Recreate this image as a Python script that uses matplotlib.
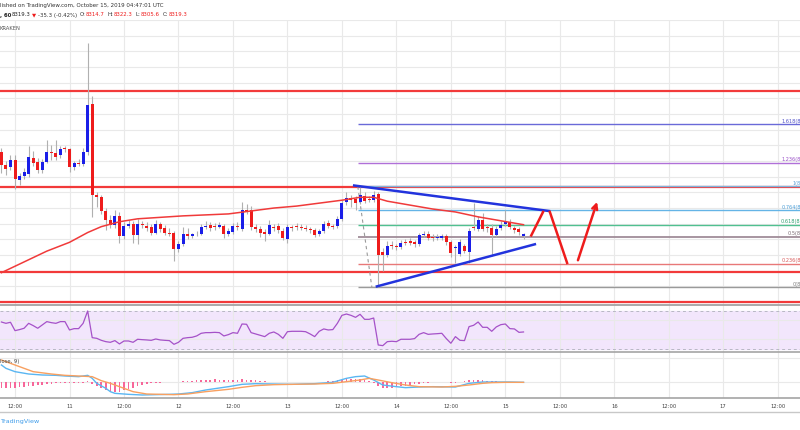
import numpy as np
import matplotlib.pyplot as plt
from matplotlib.lines import Line2D

# BTCUSD 1h, Kraken -- candles from Oct 10 09:00 to Oct 15 04:00 UTC
opens = [8527.5, 8495, 8490, 8507.5, 8457.5, 8467.5, 8472.5, 8512.5, 8502.5, 8482.5,
         8502.5, 8527.5, 8525, 8520, 8537.5, 8535, 8490, 8500, 8497.5, 8527.5,
         8650, 8417.5, 8412.5, 8377.5, 8355, 8342.5, 8365, 8312.5, 8340, 8345,
         8315, 8345, 8340, 8337.5, 8322.5, 8345, 8335, 8322.5, 8322.5, 8280,
         8292.5, 8317.5, 8312.5, 8317.5, 8320, 8337.5, 8342.5, 8340, 8337.5, 8340,
         8320, 8325, 8340, 8332.5, 8380, 8380, 8337.5, 8332.5, 8325, 8320,
         8337.5, 8340, 8327.5, 8305, 8335, 8340, 8337.5, 8335, 8332.5, 8330,
         8317.5, 8327.5, 8347.5, 8340, 8340, 8357.5, 8400, 8410, 8407.5, 8400,
         8415, 8407.5, 8405, 8420, 8272.5, 8265, 8290, 8287.5, 8285, 8297.5,
         8300, 8297.5, 8292.5, 8315, 8320, 8310, 8307.5, 8307.5, 8312.5, 8297.5,
         8282.5, 8267.5, 8287.5, 8272.5, 8337.5, 8332.5, 8355, 8335, 8335, 8315,
         8335, 8345, 8350, 8335, 8332.5, 8314.7]
highs = [8537.5, 8505, 8520, 8520, 8475, 8487.5, 8542.5, 8530, 8512.5, 8510,
         8557.5, 8545, 8557.5, 8542.5, 8542.5, 8537.5, 8505, 8510, 8537.5, 8807.5,
         8670, 8425, 8417.5, 8385, 8367.5, 8380, 8375, 8350, 8355, 8352.5,
         8357.5, 8352.5, 8350, 8345, 8355, 8350, 8342.5, 8335, 8327.5, 8300,
         8337.5, 8335, 8322.5, 8327.5, 8345, 8352.5, 8350, 8347.5, 8350, 8345,
         8335, 8347.5, 8350, 8400, 8395, 8390, 8345, 8340, 8332.5, 8355,
         8345, 8347.5, 8335, 8345, 8342.5, 8347.5, 8345, 8342.5, 8337.5, 8335,
         8332.5, 8352.5, 8355, 8345, 8365, 8405, 8425, 8417.5, 8415, 8440,
         8425, 8415, 8427.5, 8425, 8282.5, 8300, 8300, 8292.5, 8302.5, 8305,
         8307.5, 8302.5, 8322.5, 8327.5, 8327.5, 8317.5, 8320, 8320, 8317.5, 8302.5,
         8290, 8305, 8292.5, 8335, 8397.5, 8365, 8372.5, 8345, 8345, 8340,
         8352.5, 8380, 8357.5, 8340, 8337.5, 8322.3]
lows = [8475, 8470, 8482.5, 8432.5, 8445, 8460, 8465, 8492.5, 8475, 8475,
        8500, 8507.5, 8507.5, 8512.5, 8527.5, 8477.5, 8482.5, 8492.5, 8492.5, 8520,
        8362.5, 8387.5, 8370, 8330, 8335, 8335, 8295, 8305, 8335, 8295,
        8292.5, 8335, 8327.5, 8315, 8317.5, 8325, 8315, 8312.5, 8250, 8272.5,
        8287.5, 8305, 8307.5, 8312.5, 8315, 8332.5, 8327.5, 8330, 8335, 8307.5,
        8312.5, 8320, 8330, 8327.5, 8370, 8330, 8325, 8310, 8300, 8315,
        8327.5, 8322.5, 8302.5, 8295, 8327.5, 8330, 8330, 8327.5, 8322.5, 8310,
        8312.5, 8322.5, 8335, 8332.5, 8335, 8352.5, 8392.5, 8387.5, 8380, 8395,
        8397.5, 8400, 8400, 8182.5, 8225, 8260, 8280, 8277.5, 8280, 8290,
        8290, 8285, 8287.5, 8310, 8302.5, 8300, 8302.5, 8302.5, 8290, 8260,
        8245, 8262.5, 8270, 8245, 8330, 8327.5, 8327.5, 8325, 8262.5, 8310,
        8330, 8340, 8332.5, 8322.5, 8315, 8305.6]
closes = [8495, 8485, 8507.5, 8460, 8467.5, 8477.5, 8515, 8500, 8482.5, 8502.5,
          8527.5, 8525, 8515, 8535, 8535, 8490, 8500, 8497.5, 8527.5, 8647.5,
          8417.5, 8412.5, 8377.5, 8355, 8342.5, 8365, 8312.5, 8340, 8345, 8315,
          8345, 8342.5, 8335, 8322.5, 8345, 8332.5, 8322.5, 8320, 8280, 8292.5,
          8320, 8312.5, 8317.5, 8320, 8337.5, 8340, 8335, 8337.5, 8342.5, 8320,
          8327.5, 8340, 8337.5, 8380, 8377.5, 8337.5, 8332.5, 8322.5, 8320, 8342.5,
          8335, 8330, 8307.5, 8337.5, 8334, 8337.5, 8335, 8332.5, 8330, 8315,
          8327.5, 8345, 8340, 8337.5, 8357.5, 8397.5, 8410, 8405, 8397.5, 8417.5,
          8402.5, 8406, 8417.5, 8265, 8265, 8287.5, 8287.5, 8285, 8295, 8296,
          8295, 8292.5, 8315, 8320, 8307.5, 8307.5, 8310, 8312.5, 8297.5, 8270,
          8285, 8297.5, 8275, 8327.5, 8335, 8355, 8332.5, 8334, 8315, 8332.5,
          8342.5, 8352.5, 8337.5, 8330, 8325, 8319.3]

# moving average (red line), read at some candles
ma_idx = [0, 5, 10, 15, 19, 22, 26, 30, 40, 50, 55, 60, 65, 70, 75, 79, 82, 85, 90, 95, 100, 105, 110, 115]
ma_val = [8220, 8247.5, 8275, 8297.5, 8322.5, 8337.5, 8350, 8357.5, 8365, 8370, 8377.5, 8385,
          8390, 8397.5, 8405, 8412.5, 8412.5, 8402.5, 8392.5, 8382.5, 8375, 8362.5, 8352.5, 8342.5]

rsi = [58.4, 57.0, 58.1, 49.3, 50.4, 51.8, 57.0, 54.6, 51.8, 55.3,
       58.8, 57.7, 57.0, 58.8, 58.8, 50.0, 51.4, 51.4, 57.0, 70.0,
       41.9, 41.2, 39.1, 37.7, 37.0, 38.8, 35.3, 38.4, 38.4, 37.0,
       40.2, 39.8, 39.5, 39.1, 40.5, 39.5, 39.1, 38.8, 34.9, 37.0,
       41.2, 41.9, 42.3, 43.7, 46.5, 47.2, 47.2, 47.5, 47.2, 43.7,
       45.1, 47.2, 46.5, 56.3, 56.0, 47.2, 45.8, 44.4, 43.0, 46.5,
       47.9, 45.4, 41.2, 48.2, 48.6, 48.6, 48.6, 48.2, 45.8, 43.0,
       48.6, 51.1, 50.0, 50.4, 57.0, 65.4, 66.8, 65.4, 63.3, 66.5,
       61.2, 61.2, 62.6, 34.2, 33.5, 37.7, 38.1, 37.7, 40.2, 40.2,
       40.2, 40.9, 45.4, 47.2, 45.4, 45.8, 46.1, 46.5, 40.9, 36.0,
       43.0, 39.1, 38.8, 53.5, 54.9, 58.4, 52.8, 52.8, 48.6, 53.2,
       55.6, 56.3, 51.4, 51.1, 47.5, 47.9]

macd_idx = [0, 1, 3, 6, 9, 12, 14, 17, 19, 20, 21, 23, 24, 25, 28, 31, 34, 37, 39, 42, 45,
            50, 53, 56, 60, 64, 69, 73, 76, 78, 80, 82, 84, 87, 89, 92, 95, 100, 103, 106,
            109, 112, 115]
macd_val = [26, 21, 16, 12.5, 11, 10.5, 9.5, 8.5, 10.5, 6, -1.5, -9, -14, -16.5, -18, -19,
            -18.5, -18, -17.5, -15.5, -11.5, -6.5, -3, -2, -2.5, -3, -2, 0, 6, 8.5, 9.5, 3.5,
            -4, -6.5, -8, -7, -6.5, -7, -1.5, 0.5, 0.5, 0.5, 0]
signal_idx = [0, 3, 7, 11, 14, 17, 20, 22, 24, 27, 29, 32, 35, 38, 41, 45, 50, 53, 56, 60,
              64, 69, 73, 76, 79, 81, 83, 86, 89, 92, 97, 100, 103, 106, 108, 111, 115]
signal_val = [33.5, 26, 16, 12.5, 10.5, 9.5, 8.5, 2.5, -1.5, -9, -14, -17.5, -18, -18.5,
              -17.5, -14, -10.5, -7.5, -5, -3.5, -3, -2.5, -1.5, 1, 3.5, 6, 3.5, -0.5, -4,
              -6.5, -7, -6, -4, -1.5, -0.5, 0, 0]
hist = [-9, -9, -8.5, -8, -7.5, -6.5, -5.5, -5, -4, -3.5,
        -3, -2, -1.5, -1, -0.5, -0.5, -1, -1.5, -1, 1.5,
        -3, -6, -9, -12, -14, -15, -14, -12, -10, -8,
        -6, -4, -2, -1, -0.5, -0.5, 0, 0.5, 0.5, 1,
        1.5, 2, 2.5, 3, 3.5, 4, 4, 4.5, 4, 4,
        4, 4, 4, 4.5, 4, 3.5, 3, 2, 1.5, 1,
        1, 0.5, 0.5, 0.5, 0, 0, 0.5, 0.5, 0.5, 0.5,
        1, 1, 1.5, 2, 3, 4, 4.5, 5, 5, 4.5,
        3.5, 2, -1.5, -6, -8, -8.5, -8, -7.5, -6, -5,
        -4, -3, -2, -1, -0.5, 0, 0, 0.5, 0, -0.5,
        -0.5, 0.5, 1.5, 3, 3.5, 3.5, 3, 2.5, 2, 1.5,
        1, 0.5, 0.5, 0, 0, 0]

# drawings
red_levels = [8682.5, 8437.5, 8222.5, 8145]
fib_high, fib_low = 8440.0, 8182.5
fib_start = (78.5, 81.6)
fib_ratios = [1.618, 1.236, 1, 0.764, 0.618, 0.5, 0.236, 0]
fib_colors = ['#6a6ad8', '#b070d8', '#80b4dc', '#64b4e6', '#50c090', '#a08c98', '#e87878', '#9a9a9a']
fib_text = ['#5050c8', '#9a50c8', '#5aa0d8', '#4a9ed8', '#30a070', '#7a6a72', '#d85a5a', '#808080']
tri_upper = ([77.7, 120.6], [8442.5, 8377.5])
tri_lower = ([82.7, 117.5], [8185, 8292.5])
path_up = ([116.7, 119.3], [8315, 8375])
path_down = ([120.8, 124.6], [8375, 8245])
path_arrow = ([126.8, 131.4], [8245, 8407.5])

tick_labels = ['12:00', '11', '12:00', '12', '12:00', '13', '12:00', '14',
               '12:00', '15', '12:00', '16', '12:00', '17', '12:00']

BLUE = '#1a1ee8'
RED = '#ee1c1c'
GRID = '#e9e9e9'


def fy(ypix):
    return 1 - ypix / 430


fig = plt.figure(figsize=(8, 4.3), dpi=100)
ax = fig.add_axes([0, fy(305), 1, 285 / 430])
ax_rsi = fig.add_axes([0, fy(352), 1, 47 / 430], sharex=ax)
ax_macd = fig.add_axes([0, fy(398), 1, 46 / 430], sharex=ax)

xt = np.arange(3, 176, 12)
for a in (ax, ax_rsi, ax_macd):
    for s in a.spines.values():
        s.set_visible(False)
    a.set_axisbelow(True)
    a.set_xticks(xt)
    a.grid(True, color=GRID, lw=0.8)
    a.tick_params(length=0, labelleft=False, labelbottom=False)
ax.set_xlim(-0.31, 175.9)

# main price panel
ax.set_ylim(8137.5, 8850)
ax.set_yticks(np.arange(8145, 8866, 40))

x = np.arange(len(opens))
o, h, l, c = map(np.array, (opens, highs, lows, closes))
cols = np.where(c >= o, BLUE, RED)
ax.vlines(x, l, h, color='#b0b0b0', lw=0.8, zorder=3)
ax.bar(x, np.maximum(np.abs(c - o), 1.8), bottom=np.minimum(o, c), width=0.66,
       color=cols, linewidth=0, zorder=4)

ax.plot(ma_idx, ma_val, color='#f03a3a', lw=1.1, zorder=5)

for lv in red_levels:
    ax.axhline(lv, color='#f23a3a', lw=1.6, zorder=2)

for r, col, tc in zip(fib_ratios, fib_colors, fib_text):
    lv = fib_low + r * (fib_high - fib_low)
    ax.hlines(lv, fib_start[0], 176, color=col, lw=1.0 if r != 0.5 else 1.3, zorder=2)
    ax.text(179.6, lv + 1.5, f'{r}({lv:.1f})', color=tc, fontsize=3.6,
            ha='right', va='bottom', clip_on=False)
ax.plot(fib_start, [fib_high, fib_low], color='#9a9a9a', lw=0.8, ls=(0, (3, 3)), zorder=3)

ax.plot(*tri_upper, color='#2233dd', lw=1.8, zorder=6)
ax.plot(*tri_lower, color='#2233dd', lw=1.8, zorder=6)
ax.plot(*path_up, color=RED, lw=1.8, zorder=6)
ax.plot(*path_down, color=RED, lw=1.8, zorder=6)
ax.annotate('', xy=(path_arrow[0][1], path_arrow[1][1]),
            xytext=(path_arrow[0][0], path_arrow[1][0]),
            arrowprops=dict(arrowstyle='->', color=RED, lw=1.8, mutation_scale=9), zorder=6)

# RSI panel
ax_rsi.set_ylim(26.8, 76.3)
ax_rsi.set_yticks([40, 60])
ax_rsi.axhspan(30, 70, color='#f2e6fc', zorder=0)
ax_rsi.axhline(70, color='#b8b8c4', lw=0.7, ls=(0, (3, 3)))
ax_rsi.axhline(30, color='#b8b8c4', lw=0.7, ls=(0, (3, 3)))
ax_rsi.plot(x, rsi, color='#a552c8', lw=0.9)

# MACD panel
ax_macd.set_ylim(-23.5, 45.5)
ax_macd.set_yticks([0, 36])
ax_macd.bar(x, hist, width=0.36, color='#f7679a', linewidth=0)
ax_macd.plot(macd_idx, macd_val, color='#5ab6f2', lw=1.0)
ax_macd.plot(signal_idx, signal_val, color='#f8a060', lw=1.0)
ax_macd.tick_params(labelbottom=True, labelsize=3.8, labelcolor='#444', pad=4)
ax_macd.set_xticklabels(tick_labels)

# panel separators
for yp, col, lw in [(305, '#a4a4a4', 1.3), (352, '#a4a4a4', 1.2), (398, '#a4a4a4', 1.2), (412, '#c8c8c8', 1.0)]:
    fig.add_artist(Line2D([0, 1], [fy(yp), fy(yp)], transform=fig.transFigure, color=col, lw=lw))

# header texts
fig.text(0, fy(6), 'lished on TradingView.com, October 15, 2019 04:47:01 UTC',
         fontsize=4.0, color='#333', va='center')
row2 = [(0, ', 60', '#222', 'bold'), (12, '8319.3', '#222', 'normal'), (32, '\u25bc', RED, 'normal'),
        (38, '-35.3 (-0.42%)', '#333', 'normal'), (80, 'O:', '#333', 'normal'), (86, '8314.7', RED, 'normal'),
        (108, 'H:', '#333', 'normal'), (114, '8322.3', RED, 'normal'), (136, 'L:', '#333', 'normal'),
        (141, '8305.6', RED, 'normal'), (163, 'C:', '#333', 'normal'), (169, '8319.3', RED, 'normal')]
for px, s, col, wt in row2:
    fig.text(px / 800, fy(15), s, fontsize=3.9, color=col, weight=wt, va='center')
fig.text(0, fy(29), 'KRAKEN', fontsize=3.8, color='#555', va='center')
fig.text(0, fy(361), 'lose, 9)', fontsize=3.8, color='#444', va='center')
fig.text(0, fy(422), 'TradingView', fontsize=4.6, color='#3d9be9', va='center')

fig.savefig('out.png', dpi=100, facecolor='white')
